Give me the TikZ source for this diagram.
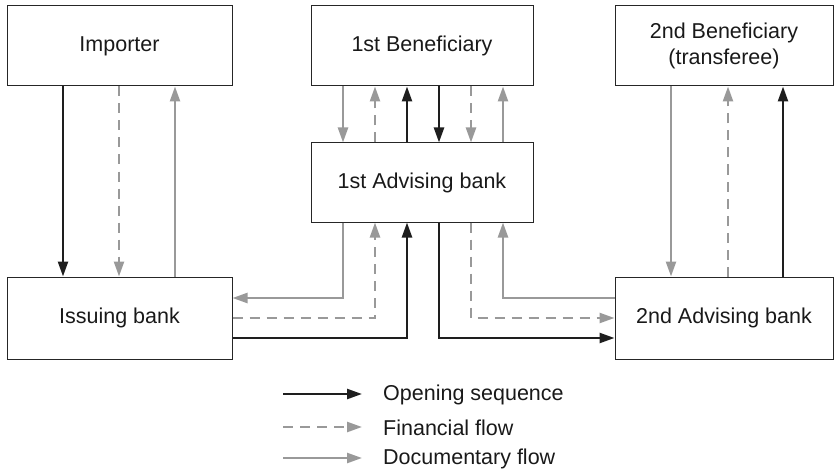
\documentclass[tikz,border=0pt]{standalone}
\usepackage{fontspec}
\setmainfont{Liberation Sans}
\usetikzlibrary{arrows.meta}
\definecolor{flowgray}{HTML}{999999}
\definecolor{flowblack}{HTML}{1E1E1E}
\begin{document}
\begin{tikzpicture}[x=1pt,y=-1pt,
  box/.style={draw=black!85, line width=1pt, inner sep=0pt, align=center,
    font=\fontsize{21.5}{25.5}\selectfont, text=black!90},
  lbl/.style={anchor=west, inner sep=0pt, font=\fontsize{21.5}{25.5}\selectfont, text=black!90},
  tip/.style={-{Triangle[length=15pt,width=10pt]}},
  opn/.style={tip, draw=flowblack, line width=2.4pt},
  fin/.style={tip, draw=flowgray, line width=2.4pt, dash pattern=on 10pt off 7pt},
  doc/.style={tip, draw=flowgray, line width=2.4pt}
]
\useasboundingbox (0,0) rectangle (834,473);

% boxes
\node[box, minimum width=225pt, minimum height=80pt] (imp) at (119.5,46) {Importer};
\node[box, minimum width=222pt, minimum height=80pt] (ben1) at (422,46) {1st Beneficiary};
\node[box, minimum width=218pt, minimum height=80pt] (ben2) at (724,46) {2nd Beneficiary\\(transferee)};
\node[box, minimum width=222pt, minimum height=79pt] (adv1) at (422,182.5) {1st Advising bank};
\node[box, minimum width=225pt, minimum height=82pt] (iss) at (119.5,318) {Issuing bank};
\node[box, minimum width=218pt, minimum height=82pt] (adv2) at (724,318) {2nd Advising bank};

% Importer <-> Issuing bank
\draw[opn] (imp.south -| 63,0) -- (iss.north -| 63,0);
\draw[fin] (imp.south -| 119,0) -- (iss.north -| 119,0);
\draw[doc] (iss.north -| 175,0) -- (imp.south -| 175,0);

% 1st Beneficiary <-> 1st Advising bank
\draw[doc] (ben1.south -| 343,0) -- (adv1.north -| 343,0);
\draw[fin] (adv1.north -| 375,0) -- (ben1.south -| 375,0);
\draw[opn] (adv1.north -| 407,0) -- (ben1.south -| 407,0);
\draw[opn] (ben1.south -| 439,0) -- (adv1.north -| 439,0);
\draw[fin] (ben1.south -| 471,0) -- (adv1.north -| 471,0);
\draw[doc] (adv1.north -| 503,0) -- (ben1.south -| 503,0);

% 1st Advising bank <-> Issuing bank
\draw[doc] (adv1.south -| 343,0) |- (iss.east |- 0,298);
\draw[fin] (iss.east) -| (adv1.south -| 375,0);
\draw[opn] (iss.east |- 0,338) -| (adv1.south -| 407,0);

% 1st Advising bank <-> 2nd Advising bank
\draw[opn] (adv1.south -| 439,0) |- (adv2.west |- 0,338);
\draw[fin] (adv1.south -| 471,0) |- (adv2.west);
\draw[doc] (adv2.west |- 0,298) -| (adv1.south -| 503,0);

% 2nd Beneficiary <-> 2nd Advising bank
\draw[doc] (ben2.south -| 671,0) -- (adv2.north -| 671,0);
\draw[fin] (adv2.north -| 728,0) -- (ben2.south -| 728,0);
\draw[opn] (adv2.north -| 783,0) -- (ben2.south -| 783,0);

% legend
\coordinate (l1a) at (283,394); \coordinate (l1b) at (362,394);
\coordinate (l2a) at (283,427); \coordinate (l2b) at (362,427);
\coordinate (l3a) at (283,458); \coordinate (l3b) at (362,458);
\draw[opn] (l1a) -- (l1b);
\draw[fin] (l2a) -- (l2b);
\draw[doc] (l3a) -- (l3b);
\node[lbl] (t1) at (383,395) {Opening sequence};
\node[lbl] (t2) at (383,428) {Financial flow};
\node[lbl] (t3) at (383,459) {Documentary flow};
\end{tikzpicture}
\end{document}
